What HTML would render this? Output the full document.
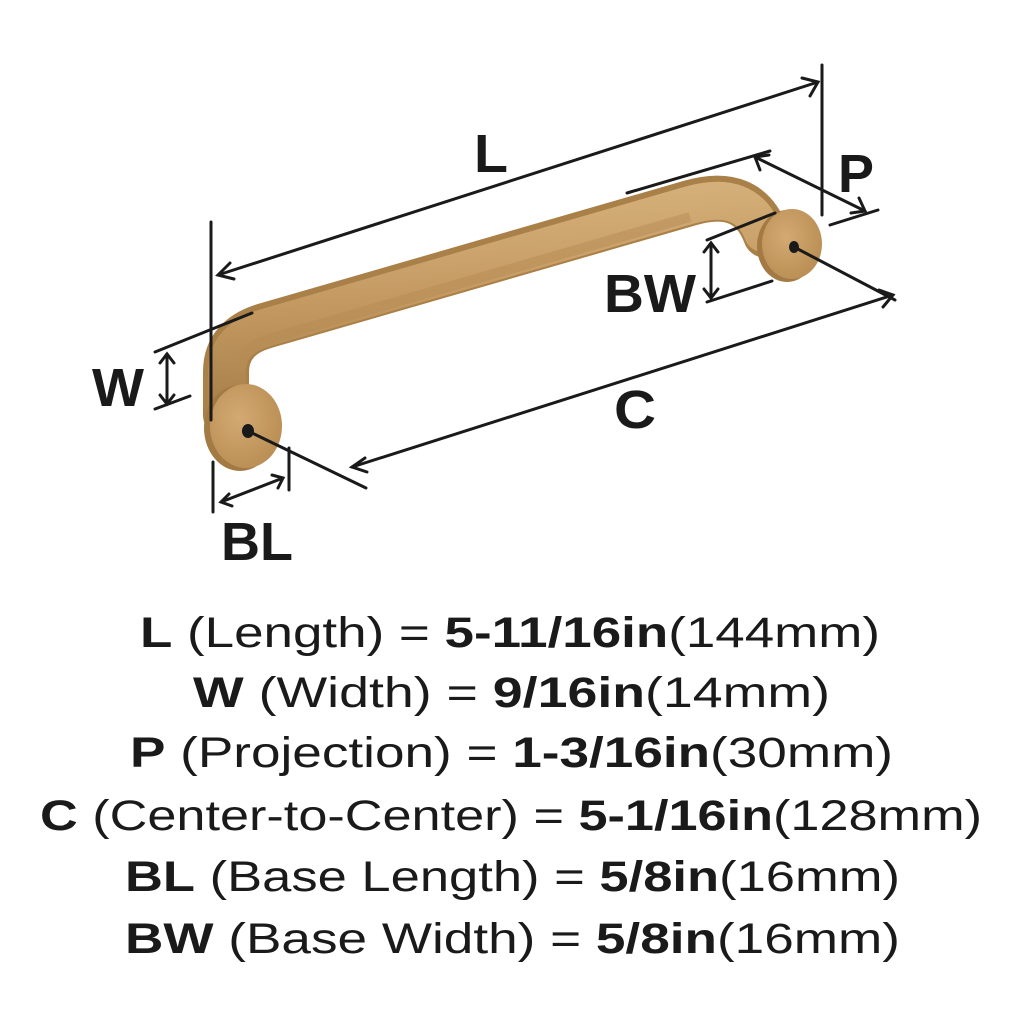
<!DOCTYPE html>
<html><head><meta charset="utf-8"><style>
html,body{margin:0;padding:0;background:#fff;}
svg{display:block;}
text{font-family:"Liberation Sans",sans-serif;fill:#1a1a1a;}
</style></head><body>
<svg width="1024" height="1024" viewBox="0 0 1024 1024" xmlns="http://www.w3.org/2000/svg">
<defs>
<linearGradient id="g" x1="0" y1="0" x2="0.15" y2="1">
<stop offset="0" stop-color="#d7b27c"/><stop offset="0.5" stop-color="#c49a62"/><stop offset="1" stop-color="#a77e48"/>
</linearGradient>
<radialGradient id="d" cx="0.4" cy="0.4" r="0.7">
<stop offset="0" stop-color="#d2aa72"/><stop offset="1" stop-color="#b88c52"/>
</radialGradient>
</defs>
<path d="M226 415 L226 372 Q226 336 268 325 L690 203 Q748 186 766 235" fill="none" stroke="#aa8049" stroke-width="46" stroke-linecap="round"/>
<path d="M227 410 L227 372 Q227 338 268 327 L690 205 Q746 189 763 233" fill="none" stroke="url(#g)" stroke-width="38" stroke-linecap="round"/>
<path d="M240 372 Q243 345 272 338 L690 217" fill="none" stroke="#b68b53" stroke-width="10" opacity="0.5"/>
<ellipse cx="240" cy="428" rx="36" ry="43" fill="#a47a44"/>
<ellipse cx="246" cy="426" rx="36" ry="42" fill="url(#d)"/>
<ellipse cx="248" cy="431" rx="6" ry="7" fill="#1a1a1a"/>
<ellipse cx="787" cy="246" rx="30" ry="36" fill="#a47a44"/>
<ellipse cx="792" cy="244" rx="30" ry="35" fill="url(#d)"/>
<ellipse cx="794" cy="247" rx="5" ry="6" fill="#1a1a1a"/>
<g stroke="#1a1a1a" stroke-width="3" fill="none" stroke-linecap="round">
<line x1="218" y1="275" x2="818" y2="82"/>
<polyline points="230,263 218,275 234,279"/>
<polyline points="802,78 818,82 810,96"/>
<line x1="822" y1="65" x2="822" y2="215"/>
<line x1="211" y1="222" x2="211" y2="420"/>
<line x1="627" y1="193" x2="770" y2="151"/>
<line x1="755" y1="157" x2="865" y2="211"/>
<polyline points="760,170 755,157 769,155"/>
<polyline points="851,213 865,211 859,198"/>
<line x1="830" y1="225" x2="878" y2="210"/>
<line x1="707" y1="240" x2="775" y2="213"/>
<line x1="707" y1="302" x2="772" y2="281"/>
<line x1="711" y1="243" x2="711" y2="298"/>
<polyline points="704,252 711,243 718,252"/>
<polyline points="704,289 711,298 718,289"/>
<line x1="794" y1="247" x2="895" y2="300"/>
<line x1="248" y1="431" x2="366" y2="488"/>
<line x1="352" y1="467" x2="893" y2="295"/>
<polyline points="365,458 352,467 367,472"/>
<polyline points="879,290 893,295 883,307"/>
<line x1="155" y1="352" x2="252" y2="313"/>
<line x1="155" y1="409" x2="190" y2="396"/>
<line x1="167" y1="354" x2="167" y2="404"/>
<polyline points="160,363 167,354 174,363"/>
<polyline points="160,395 167,404 174,395"/>
<line x1="213" y1="462" x2="213" y2="512"/>
<line x1="289" y1="448" x2="289" y2="490"/>
<line x1="221" y1="502" x2="283" y2="478"/>
<polyline points="229,494 221,502 232,506"/>
<polyline points="272,475 283,478 278,488"/>
</g>
<g font-weight="bold" font-size="54">
<text x="474" y="172" textLength="34" lengthAdjust="spacingAndGlyphs">L</text>
<text x="838" y="192" textLength="36" lengthAdjust="spacingAndGlyphs">P</text>
<text x="604" y="312" textLength="92" lengthAdjust="spacingAndGlyphs">BW</text>
<text x="92" y="406" textLength="52" lengthAdjust="spacingAndGlyphs">W</text>
<text x="614" y="428" textLength="42" lengthAdjust="spacingAndGlyphs">C</text>
<text x="221" y="560" textLength="72" lengthAdjust="spacingAndGlyphs">BL</text>
</g>
<g font-size="43">
<text x="140" y="647" textLength="740" lengthAdjust="spacingAndGlyphs"><tspan font-weight="bold">L</tspan> (Length) = <tspan font-weight="bold">5-11/16in</tspan>(144mm)</text>
<text x="193" y="707" textLength="637" lengthAdjust="spacingAndGlyphs"><tspan font-weight="bold">W</tspan> (Width) = <tspan font-weight="bold">9/16in</tspan>(14mm)</text>
<text x="130" y="767" textLength="763" lengthAdjust="spacingAndGlyphs"><tspan font-weight="bold">P</tspan> (Projection) = <tspan font-weight="bold">1-3/16in</tspan>(30mm)</text>
<text x="40" y="830" textLength="942" lengthAdjust="spacingAndGlyphs"><tspan font-weight="bold">C</tspan> (Center-to-Center) = <tspan font-weight="bold">5-1/16in</tspan>(128mm)</text>
<text x="125" y="891" textLength="775" lengthAdjust="spacingAndGlyphs"><tspan font-weight="bold">BL</tspan> (Base Length) = <tspan font-weight="bold">5/8in</tspan>(16mm)</text>
<text x="125" y="953" textLength="775" lengthAdjust="spacingAndGlyphs"><tspan font-weight="bold">BW</tspan> (Base Width) = <tspan font-weight="bold">5/8in</tspan>(16mm)</text>
</g>
</svg>
</body></html>
